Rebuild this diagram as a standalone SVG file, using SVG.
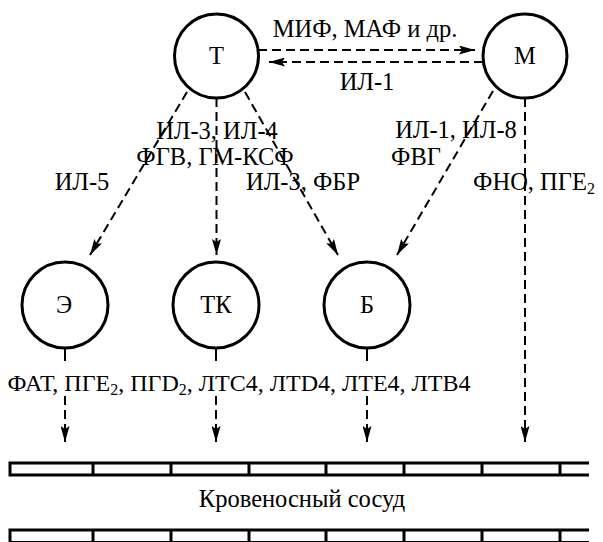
<svg xmlns="http://www.w3.org/2000/svg" width="603" height="542" viewBox="0 0 603 542" font-family="'Liberation Serif', 'DejaVu Serif', serif">
<style>
text{font-family:'Liberation Serif','DejaVu Serif',serif;font-size:24.5px;fill:#000;text-anchor:middle}
.node{fill:#fff;stroke:#000;stroke-width:3}
.dash{fill:none;stroke:#000;stroke-width:2;stroke-dasharray:9 5}
.solid{fill:none;stroke:#000;stroke-width:2}
.wall{fill:none;stroke:#000;stroke-width:3}
.sub{font-size:16px}
.row{font-size:24px}
</style>
<defs>
<marker id="ah" markerUnits="userSpaceOnUse" markerWidth="16" markerHeight="9" refX="16" refY="4.5" orient="auto" viewBox="0 0 16 9">
<path d="M0,0 L16,4.5 L0,9 L3,4.5 Z" fill="#000"/>
</marker>
</defs>
<g id="connectors">
<path class="dash" d="M258,50 H475" marker-end="url(#ah)"/>
<path class="dash" d="M483,62 H269" marker-end="url(#ah)"/>
<path class="dash" d="M187,92 L90,255" marker-end="url(#ah)"/>
<path class="dash" d="M216.5,98 V255" marker-end="url(#ah)"/>
<path class="dash" d="M245,92 L338,255" marker-end="url(#ah)"/>
<path class="dash" d="M493,91 L397,255" marker-end="url(#ah)"/>
<path class="dash" d="M525,98 V442" marker-end="url(#ah)"/>
<path class="solid" d="M65,348 V361 M216,348 V361 M367,348 V361"/>
<path class="dash" d="M65,396 V442" marker-end="url(#ah)"/>
<path class="dash" d="M216,396 V442" marker-end="url(#ah)"/>
<path class="dash" d="M367,396 V442" marker-end="url(#ah)"/>
</g>
<g id="node-T"><circle class="node" cx="216.5" cy="56" r="42"/><text x="216.5" y="64">Т</text></g>
<g id="node-M"><circle class="node" cx="525" cy="56" r="42"/><text x="525" y="64">М</text></g>
<g id="node-E"><circle class="node" cx="65" cy="305" r="43"/><text x="64" y="313">Э</text></g>
<g id="node-TK"><circle class="node" cx="216" cy="305" r="43"/><text x="216" y="313">ТК</text></g>
<g id="node-B"><circle class="node" cx="367" cy="305" r="43"/><text x="367" y="313">Б</text></g>
<g id="labels">
<text x="365" y="37">МИФ, МАФ и др.</text>
<text x="367" y="90">ИЛ-1</text>
<text x="456" y="138">ИЛ-1, ИЛ-8</text>
<text x="416" y="165">ФВГ</text>
<text x="217" y="139">ИЛ-3, ИЛ-4</text>
<text x="215" y="165">ФГВ, ГМ-КСФ</text>
<text x="82" y="190">ИЛ-5</text>
<text x="303" y="190">ИЛ-3, ФБР</text>
<text x="534" y="190">ФНО, ПГЕ<tspan class="sub" dy="4">2</tspan></text>
<text class="row" x="239" y="391">ФАТ, ПГЕ<tspan class="sub" dy="4">2</tspan><tspan dy="-4">, ПГD</tspan><tspan class="sub" dy="4">2</tspan><tspan dy="-4">, ЛТС4, ЛТD4, ЛТЕ4, ЛТВ4</tspan></text>
</g>
<g id="vessel">
<path class="wall" d="M10,463 H589 M10,475 H589 M10,461.5 V476.5 M93,463 V475 M171,463 V475 M249,463 V475 M326,463 V475 M404,463 V475 M482,463 V475 M560,463 V475"/>
<path class="wall" d="M10,530 H589 M10,542.5 H589 M10,528.5 V544 M93,530 V544 M171,530 V544 M249,530 V544 M326,530 V544 M404,530 V544 M482,530 V544 M560,530 V544"/>
<text x="302" y="507">Кровеносный сосуд</text>
</g>
</svg>
